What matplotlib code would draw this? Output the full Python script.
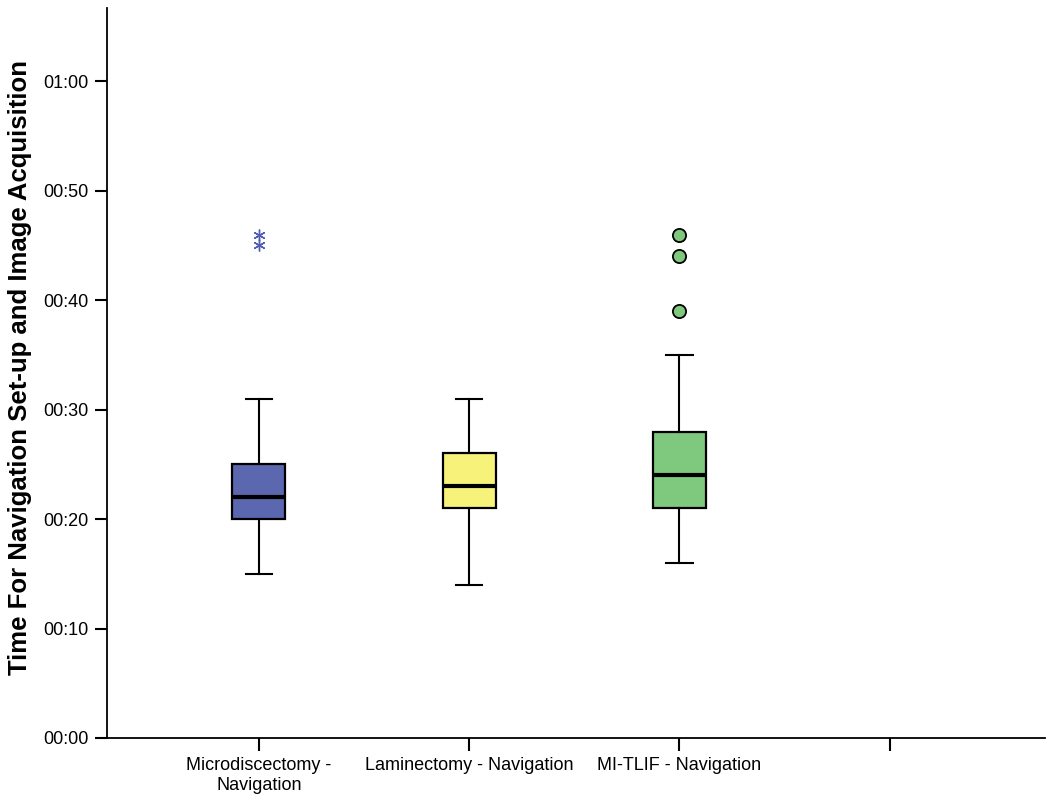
import matplotlib
matplotlib.use("Agg")
import matplotlib.pyplot as plt

plt.rcParams['font.family'] = ['Liberation Sans', 'DejaVu Sans']

categories = ["Microdiscectomy -\nNavigation", "Laminectomy - Navigation", "MI-TLIF - Navigation", ""]
whisker_low = [15, 14, 16]
q1 = [20, 21, 21]
median = [22, 23, 24]
q3 = [25, 26, 28]
whisker_high = [31, 31, 35]
outliers = [[46, 45], [], [46, 44, 39]]
box_colors = ["#5B67AE", "#F7F27A", "#7FC97F"]
ytick_values = [0, 10, 20, 30, 40, 50, 60]
ytick_labels = ["00:00", "00:10", "00:20", "00:30", "00:40", "00:50", "01:00"]

fig = plt.figure(figsize=(10.5, 8), dpi=100)
ax = fig.add_axes([106.5/1050, 62/800, (1045-106.5)/1050, (738-8)/800])

stats = []
for i in range(3):
    stats.append(dict(whislo=whisker_low[i], q1=q1[i], med=median[i], q3=q3[i],
                      whishi=whisker_high[i], fliers=[], label=categories[i]))

bp = ax.bxp(stats, positions=[1, 2, 3], widths=0.252, patch_artist=True,
            showfliers=False, manage_ticks=False,
            boxprops=dict(edgecolor="black", linewidth=1.6),
            medianprops=dict(color="black", linewidth=3),
            whiskerprops=dict(color="black", linewidth=1.5),
            capprops=dict(color="black", linewidth=1.5),
            capwidths=0.125)
for patch, c in zip(bp['boxes'], box_colors):
    patch.set_facecolor(c)

# outliers
ax.plot([1]*len(outliers[0]), outliers[0], linestyle="none", marker=(6, 2, 0),
        markersize=8.5, markeredgecolor="#4F5DB5", markeredgewidth=1.0, zorder=4)
ax.plot([3]*len(outliers[2]), outliers[2], linestyle="none", marker="o",
        markersize=9.5, markerfacecolor="#7FC97F", markeredgecolor="black",
        markeredgewidth=1.3, zorder=4)

ax.set_xlim(0.276, 4.738)
ax.set_ylim(0, 66.7)
ax.set_xticks([1, 2, 3, 4])
ax.set_xticklabels(categories, fontsize=13)
ax.set_yticks(ytick_values)
ax.set_yticklabels(ytick_labels, fontsize=13)
ax.tick_params(axis='both', direction='out', length=9, width=1.5, color='black')
ax.tick_params(axis='x', pad=5)
ax.tick_params(axis='y', pad=4)

for s in ['top', 'right']:
    ax.spines[s].set_visible(False)
for s in ['left', 'bottom']:
    ax.spines[s].set_linewidth(1.3)

ax.set_ylabel("Time For Navigation Set-up and Image Acquisition", fontsize=18.5,
              fontweight='bold')
ax.yaxis.set_label_coords(-0.079, 0.508)

fig.savefig("out.png", dpi=100)
